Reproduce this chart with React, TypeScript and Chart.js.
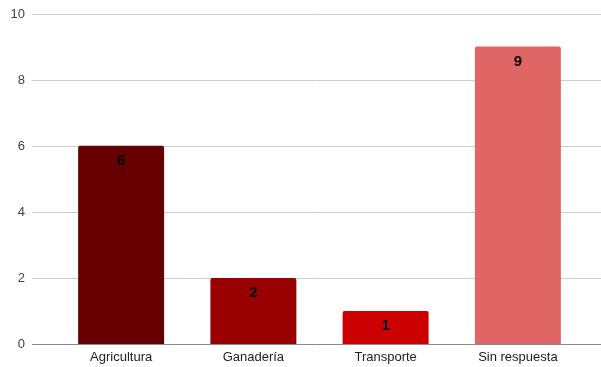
import React, { useEffect, useRef } from "react";
import { Chart, registerables } from "chart.js";

Chart.register(...registerables);

const categories = ["Agricultura", "Ganadería", "Transporte", "Sin respuesta"];
const values = [6, 2, 1, 9];
const barColors = ["#660000", "#990000", "#cc0000", "#e06666"];
const yTicks = [0, 2, 4, 6, 8, 10];

const FONT = "Arial, 'Liberation Sans', sans-serif";

const gridPlugin = {
  id: "gridPlugin",
  beforeDatasetsDraw(chart: any) {
    const ctx = chart.ctx;
    const y = chart.scales.y;
    const x = chart.scales.x;
    ctx.save();
    yTicks.forEach((t) => {
      const py = Math.round(y.getPixelForValue(t)) + 0.5;
      ctx.strokeStyle = t === 0 ? "#8a8a8a" : "#cccccc";
      ctx.lineWidth = 1;
      ctx.beginPath();
      ctx.moveTo(32, py);
      ctx.lineTo(601, py);
      ctx.stroke();
      ctx.fillStyle = "#444444";
      ctx.font = `13px ${FONT}`;
      ctx.textAlign = "right";
      ctx.textBaseline = "middle";
      ctx.fillText(String(t), 25, py);
    });
    ctx.fillStyle = "#222222";
    ctx.font = `13px ${FONT}`;
    ctx.textAlign = "center";
    ctx.textBaseline = "middle";
    categories.forEach((c, i) => {
      ctx.fillText(c, x.getPixelForValue(i), chart.chartArea.bottom + 13);
    });
    ctx.restore();
  },
  afterDatasetsDraw(chart: any) {
    const ctx = chart.ctx;
    const meta = chart.getDatasetMeta(0);
    ctx.save();
    ctx.fillStyle = "#000000";
    ctx.font = `bold 15px ${FONT}`;
    ctx.textAlign = "center";
    ctx.textBaseline = "middle";
    meta.data.forEach((bar: any, i: number) => {
      ctx.fillText(String(values[i]), bar.x, bar.y + 15);
    });
    ctx.restore();
  },
};

export default function App() {
  const ref = useRef<HTMLCanvasElement>(null);
  useEffect(() => {
    document.body.style.margin = "0";
    const chart = new Chart(ref.current!, {
      type: "bar",
      data: {
        labels: categories,
        datasets: [
          {
            data: values,
            backgroundColor: barColors,
            borderRadius: 2,
            borderSkipped: "bottom",
            categoryPercentage: 1,
            barPercentage: 0.65,
          },
        ],
      },
      options: {
        responsive: false,
        animation: false,
        layout: { padding: { left: 55, right: 17, top: 13.5, bottom: 23 } },
        plugins: { legend: { display: false }, tooltip: { enabled: false } },
        scales: {
          x: { display: false },
          y: { display: false, min: 0, max: 10 },
        },
      },
      plugins: [gridPlugin],
    });
    return () => chart.destroy();
  }, []);
  return (
    <div style={{ position: "absolute", left: 0, top: 0, width: 601, height: 367 }}>
      <canvas ref={ref} width={601} height={367} />
    </div>
  );
}
